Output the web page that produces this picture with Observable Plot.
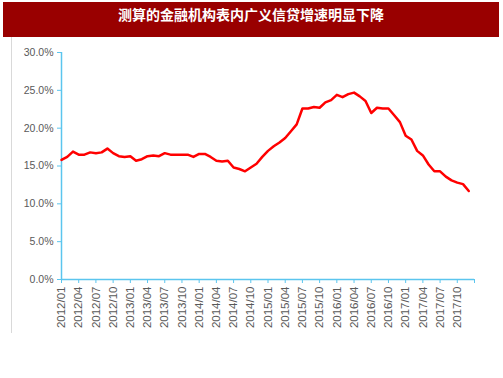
<!DOCTYPE html>
<html>
<head>
<meta charset="utf-8">
<script src="https://cdn.jsdelivr.net/npm/d3@7"></script>
<script src="https://cdn.jsdelivr.net/npm/@observablehq/plot@0.6"></script>
<style>
  html, body { margin: 0; padding: 0; background: #ffffff; }
  #wrap { position: relative; width: 503px; height: 378px; overflow: hidden; }
  #title {
    position: absolute; left: 3px; top: 2px; width: 496px; height: 35px;
    background: #990000; color: #ffffff;
    font-family: "Noto Sans CJK SC", sans-serif; font-weight: bold; font-size: 14px;
    line-height: 24px; text-align: center; z-index: 2;
  }
  #frame { position: absolute; left: 11px; top: 37px; width: 1px; height: 296px; background: #d9d9d9; }
  #chart { position: absolute; left: 0; top: 0; }
</style>
</head>
<body>
<div id="wrap">
  <div id="title">测算的金融机构表内广义信贷增速明显下降</div>
  <div id="frame"></div>
  <div id="chart"></div>
</div>
<script>
// Monthly growth rate (%) from 2012/01 to 2017/12
const values = [
  15.8, 16.2, 16.9, 16.5, 16.5, 16.8, 16.7, 16.8, 17.3, 16.7, 16.3, 16.2,
  16.3, 15.7, 15.9, 16.3, 16.4, 16.3, 16.7, 16.5, 16.5, 16.5, 16.5, 16.2,
  16.6, 16.6, 16.2, 15.7, 15.6, 15.7, 14.8, 14.6, 14.3, 14.8, 15.3, 16.2,
  17.0, 17.6, 18.1, 18.7, 19.6, 20.5, 22.6, 22.6, 22.8, 22.7, 23.4, 23.7,
  24.4, 24.1, 24.5, 24.7, 24.2, 23.6, 22.0, 22.7, 22.6, 22.6, 21.7, 20.8,
  19.0, 18.5, 17.0, 16.4, 15.2, 14.3, 14.3, 13.6, 13.1, 12.8, 12.6, 11.7
];
// Tick labels every 3 months
const xTickLabels = [
  "2012/01","2012/04","2012/07","2012/10",
  "2013/01","2013/04","2013/07","2013/10",
  "2014/01","2014/04","2014/07","2014/10",
  "2015/01","2015/04","2015/07","2015/10",
  "2016/01","2016/04","2016/07","2016/10",
  "2017/01","2017/04","2017/07","2017/10"
];
const yTicks = [0, 5, 10, 15, 20, 25, 30];

const data = values.map((v, i) => ({i, v}));
const xTicks = d3.range(0, 73, 3);
const axisColor = "#5bc5ee";
const textColor = "#595959";

const chart = Plot.plot({
  width: 503,
  height: 378,
  marginTop: 52,
  marginBottom: 99,
  marginLeft: 61,
  marginRight: 29,
  x: {type: "linear", domain: [0, 72]},
  y: {domain: [0, 30]},
  style: {fontFamily: "'Liberation Sans', Arial, sans-serif", color: textColor, background: "transparent"},
  marks: [
    Plot.axisY({
      ticks: yTicks,
      tickFormat: d => d.toFixed(1) + "%",
      tickSize: 4, tickPadding: 4,
      stroke: axisColor, fill: textColor,
      fontSize: 10.5, label: null
    }),
    Plot.axisX({
      ticks: xTicks,
      tickFormat: d => (d / 3 < xTickLabels.length ? xTickLabels[d / 3] : ""),
      tickRotate: -90,
      tickSize: 4, tickPadding: 3,
      stroke: axisColor, fill: textColor,
      fontSize: 11.5, label: null
    }),
    Plot.ruleX([0], {stroke: axisColor, strokeWidth: 1.5}),
    Plot.ruleY([0], {stroke: axisColor, strokeWidth: 1.5}),
    Plot.line(data, {x: "i", y: "v", stroke: "#ff0000", strokeWidth: 2.5, curve: "linear"})
  ]
});
document.getElementById("chart").appendChild(chart);
</script>
</body>
</html>
